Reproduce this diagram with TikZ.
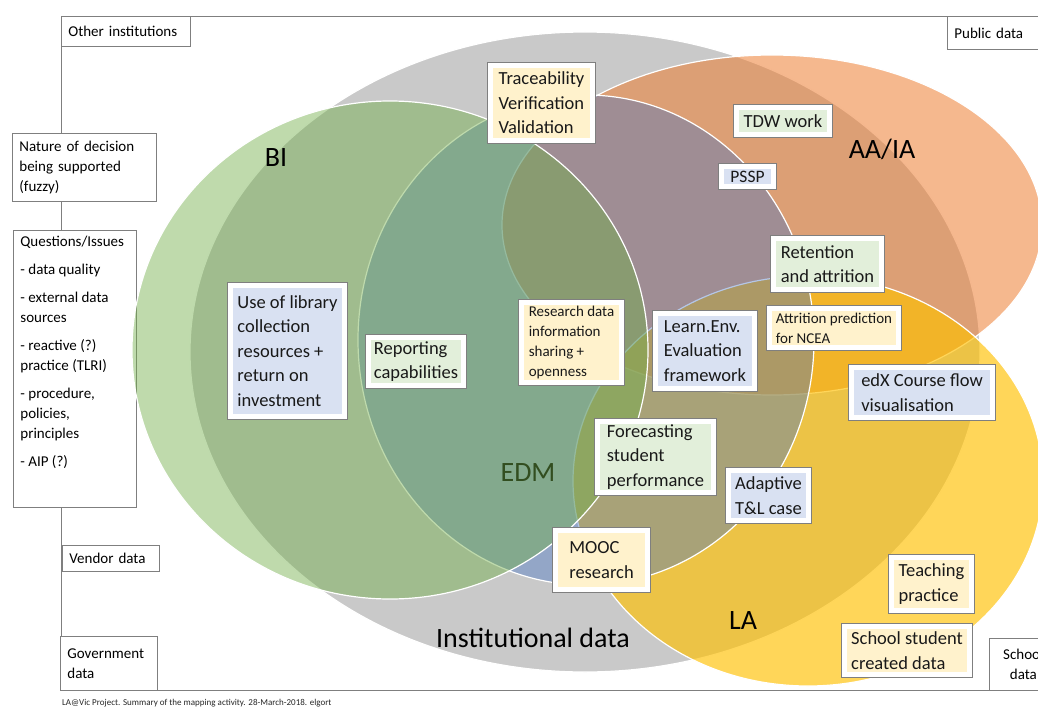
\documentclass[tikz,border=0pt]{standalone}
\usepackage{fontspec}
\setmainfont{Carlito}
\usetikzlibrary{shapes.geometric}
\definecolor{frameg}{HTML}{7F7F7F}
\definecolor{instg}{HTML}{C9C9C9}
\definecolor{aaor}{HTML}{ED7D31}
\definecolor{layel}{HTML}{FFC000}
\definecolor{edmbl}{HTML}{4472C4}
\definecolor{bigr}{HTML}{70AD47}
\definecolor{lyel}{HTML}{FFF2CC}
\definecolor{lgrn}{HTML}{E2EFDA}
\definecolor{lblu}{HTML}{D9E1F2}
\begin{document}
\begin{tikzpicture}[x=1pt,y=-1pt,
  setbox/.style={ellipse, inner sep=0pt, draw=white, line width=1.2pt},
  frameline/.style={draw=frameg, line width=0.8pt},
  sidebox/.style={draw=frameg, line width=0.8pt, fill=white, inner xsep=7pt, inner ysep=0pt,
    font=\fontsize{15}{20}\selectfont, align=left, anchor=north west},
  tag/.style={fill=#1, draw=white, line width=5pt, preaction={draw=frameg, line width=7pt},
    inner xsep=4.5pt, inner ysep=2pt, font=\fontsize{18.5}{24.5}\selectfont, align=left, text=black!90},
  smalltag/.style={tag=#1, font=\fontsize{15}{20}\selectfont},
  big/.style={font=\fontsize{28}{32}\selectfont, inner sep=0pt}
]
\useasboundingbox (0,0) rectangle (1038,709);
% frame
\coordinate (tl) at (61,16);
\coordinate (bl) at (61,690);
\coordinate (tr) at (1042,16);
\coordinate (br) at (1042,690);
\draw[frameline] (tr) -- (tl) -- (bl) -- (br);
% side boxes
\node[sidebox, text width=115pt, minimum height=30pt] (oth) at (61,16) {Other institutions};
\node[sidebox, text width=86pt, minimum height=33pt] (pub) at (947,16) {Public data};
\node[sidebox, text width=130pt, minimum height=68pt] (nat) at (12,133) {Nature of decision\\being supported\\(fuzzy)};
\node[sidebox, inner ysep=6pt] (qi) at (13,230) {\parbox[c][265pt][t]{109pt}{\raggedright
  Questions/Issues\\[8pt]
  - data quality\\[8pt]
  - external data\\sources\\[8pt]
  - reactive (?)\\practice (TLRI)\\[8pt]
  - procedure,\\policies,\\principles\\[8pt]
  - AIP (?)}};
\node[sidebox, text width=83pt, minimum height=26pt] (ven) at (62,545) {Vendor data};
\node[sidebox, text width=83pt, minimum height=54pt] (gov) at (60,636) {Government\\data};
\node[sidebox, align=center, text width=54pt, minimum height=52pt] (sch) at (989,638) {School\\data};
\node[anchor=west, inner sep=0pt, font=\fontsize{9}{10}\selectfont, text=black!85] (foot) at (62,703)
  {LA@Vic Project. Summary of the mapping activity. 28-March-2018. elgort};
% sets
\node[setbox, fill=instg, minimum width=790pt, minimum height=640pt] (inst) at (585,352) {};
\node[setbox, fill=aaor, fill opacity=0.55, minimum width=540pt, minimum height=340pt] (aa) at (772,225) {};
\node[setbox, fill=layel, fill opacity=0.65, minimum width=470pt, minimum height=410pt] (la) at (808,481) {};
\node[setbox, fill=edmbl, fill opacity=0.4, minimum width=456pt, minimum height=490pt] (edm) at (586,340) {};
\node[big] (edmt) at (528,473) {EDM};
\node[setbox, fill=bigr, fill opacity=0.45, minimum width=516pt, minimum height=498pt] (bi) at (390,350) {};
% set labels
\node[big] (bit) at (276,158) {BI};
\node[big] (aat) at (882,149) {AA/IA};
\node[big] (lat) at (743,621) {LA};
\node[big] (instt) at (533,638) {Institutional data};
% tags
\node[tag=lyel, minimum width=102pt, minimum height=75pt] (trace) at (541.5,103) {Traceability\\Verification\\Validation};
\node[tag=lgrn, minimum width=93pt, minimum height=27pt] (tdw) at (783,121) {TDW work};
\node[tag=lblu, minimum width=52pt, minimum height=20pt, font=\fontsize{17.5}{22}\selectfont] (pssp) at (747.5,176.5) {PSSP};
\node[tag=lgrn, minimum width=108pt, minimum height=51pt] (ret) at (827.5,264) {Retention\\and attrition};
\node[smalltag=lyel, minimum width=100pt, minimum height=80pt] (res) at (571.5,342.5) {Research data\\information\\sharing +\\openness};
\node[tag=lblu, minimum width=99pt, minimum height=75pt] (learn) at (705,351) {Learn.Env.\\Evaluation\\framework};
\node[smalltag=lyel, minimum width=129pt, minimum height=39pt] (attr) at (834,328) {Attrition prediction\\for NCEA};
\node[tag=lblu, minimum width=141pt, minimum height=50pt] (edx) at (922,392.5) {edX Course flow\\visualisation};
\node[tag=lgrn, minimum width=116pt, minimum height=71pt] (fore) at (655.5,457) {Forecasting\\student\\performance};
\node[tag=lblu, minimum width=80pt, minimum height=50pt] (adapt) at (768.5,495.5) {Adaptive\\T\&L case};
\node[tag=lyel, minimum width=92pt, minimum height=59pt] (mooc) at (601.5,560) {MOOC\\research};
\node[tag=lyel, minimum width=80pt, minimum height=53pt] (teach) at (931.5,584) {Teaching\\practice};
\node[tag=lyel, minimum width=125pt, minimum height=48pt] (schs) at (907,650.5) {School student\\created data};
\node[tag=lblu, minimum width=114pt, minimum height=131pt] (lib) at (287.5,351) {Use of library\\collection\\resources +\\return on\\investment};
\node[tag=lgrn, minimum width=95pt, minimum height=48pt] (rep) at (416,361.5) {Reporting\\capabilities};
\end{tikzpicture}
\end{document}
